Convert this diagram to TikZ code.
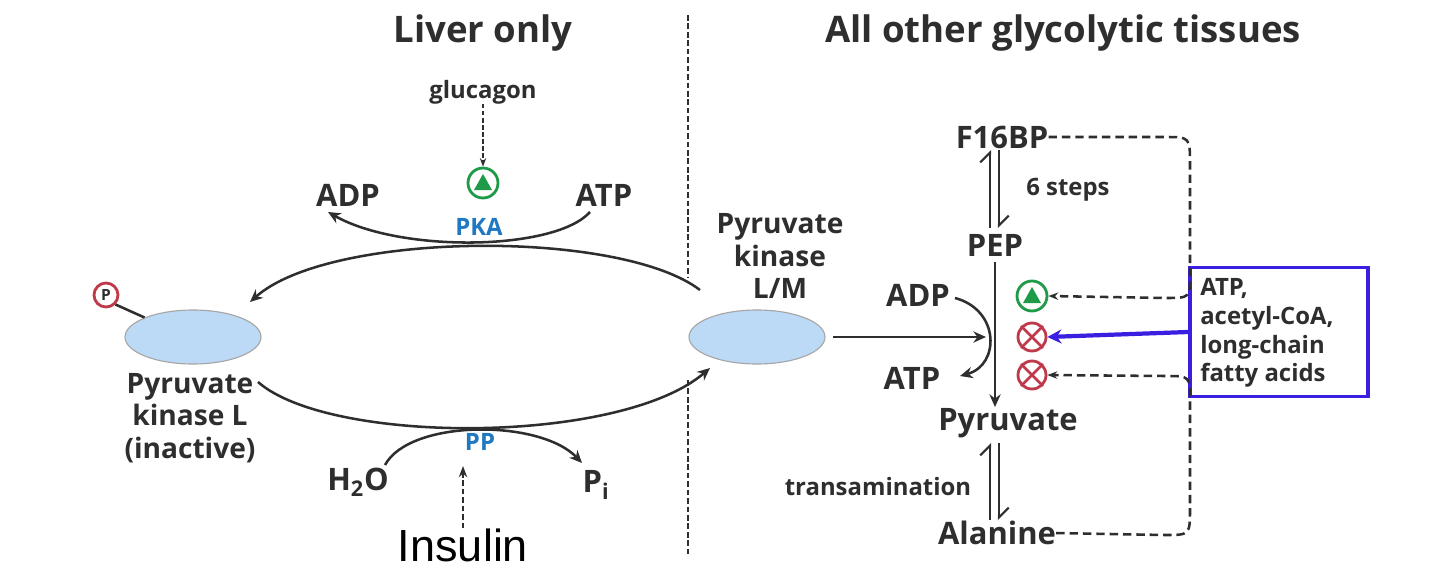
\documentclass[tikz,border=0pt]{standalone}
\usepackage{fontspec}
\setmainfont{Open Sans}
\newfontfamily\arialf{Liberation Sans}
\usetikzlibrary{arrows.meta,shapes.geometric,calc}
\definecolor{ink}{HTML}{2E2E2E}
\definecolor{pkblue}{HTML}{1F78C1}
\definecolor{encfill}{HTML}{BCD9F5}
\definecolor{actgreen}{HTML}{1E9A48}
\definecolor{inhred}{HTML}{C0394B}
\definecolor{boxblue}{HTML}{3A1FE0}
\tikzset{
  lbl/.style={font=\bfseries\fontsize{22}{24}\selectfont, text=ink, inner sep=0pt},
  sml/.style={font=\bfseries\fontsize{17}{25}\selectfont, text=ink, inner sep=0pt},
  ttl/.style={font=\bfseries\fontsize{26}{28}\selectfont, text=ink, inner sep=0pt},
  enz/.style={ellipse, draw=gray!70, fill=encfill, minimum width=136*0.025cm, minimum height=54*0.025cm, line width=0.8pt},
  conn/.style={draw=ink, line width=1.8pt, -{Stealth[length=9pt,width=8pt]}},
  plain/.style={draw=ink, line width=1.8pt},
  dsh/.style={draw=ink, line width=1.8pt, dash pattern=on 6pt off 3.5pt},
  act/.style={circle, draw=actgreen, line width=2pt, minimum size=30*0.025cm, inner sep=0pt},
  inh/.style={circle, draw=inhred, line width=2pt, minimum size=28*0.025cm, inner sep=0pt},
}
\begin{document}
\begin{tikzpicture}[x=0.025cm,y=-0.025cm]
\useasboundingbox (0,0) rectangle (1440,587);
% titles
\node[ttl] (t1) at (483,33) {Liver only};
\node[ttl] (t2) at (1063,33) {All other glycolytic tissues};
% divider
\coordinate (d1) at (688,15); \coordinate (d2) at (688,278);
\coordinate (d3) at (688,380); \coordinate (d4) at (688,555);
\draw[dsh, dash pattern=on 4pt off 2pt, line width=1.8pt] (d1) -- (d2);
\draw[dsh, dash pattern=on 4pt off 2pt, line width=1.8pt] (d3) -- (d4);
% enzymes
\node[enz] (eL) at (193,337) {};
\node[enz] (eM) at (757,337) {};
\node[circle, draw=inhred, line width=2pt, minimum size=24*0.025cm, inner sep=0pt, font=\bfseries\fontsize{11}{12}\selectfont, text=ink] (P) at (106,295) {P};
\draw[plain] (P.south east) -- (eL.north west);
\node[lbl, align=center, font=\bfseries\fontsize{20}{23}\selectfont] (lL) at (190,418) {Pyruvate\\kinase L\\(inactive)};
\node[lbl, align=center, font=\bfseries\fontsize{20}{23}\selectfont] (lM) at (780,256) {Pyruvate\\kinase\\L/M};
% top cycle
\coordinate (ta) at (700,290);
\coordinate (tb) at (250,302);
\draw[conn] (ta) .. controls (620,229) and (330,231) .. (tb);
\coordinate (ba) at (258,382);
\coordinate (bb) at (710,368);
\draw[conn] (ba) .. controls (330,445) and (620,445) .. (bb);
% glucagon / PKA
\node[sml] (glu) at (483,92) {glucagon};
\node[act] (gA) at (483,183) {};
\fill[actgreen] ($(gA)+(0,-9)$) -- ($(gA)+(-9,7)$) -- ($(gA)+(9,7)$) -- cycle;
\draw[dsh, dash pattern=on 3pt off 2pt, -{Stealth[length=6pt]}] (glu) -- (gA);
\node[lbl] (adp1) at (348,195) {ADP};
\node[lbl] (atp1) at (604,195) {ATP};
\node[sml, text=pkblue] (pka) at (479,227) {PKA};
\coordinate (atpS) at (590,212);
\coordinate (adpE) at (328,212);
\draw[conn] (atpS) .. controls (555,251) and (400,253) .. (adpE);
% PP / insulin
\node[sml, text=pkblue] (pp) at (480,442) {PP};
\node[lbl] (h2o) at (358,482) {H\textsubscript{2}O};
\node[lbl] (pi) at (596,485) {P\textsubscript{i}};
\coordinate (h2oS) at (385,465);
\coordinate (piE) at (582,463);
\draw[conn] (h2oS) .. controls (410,419) and (540,419) .. (piE);
\node[font=\arialf\fontsize{32}{34}\selectfont, text=black, inner sep=0pt] (ins) at (463,545) {Insulin};
\coordinate (insE) at (463,466);
\draw[dsh, dash pattern=on 4pt off 2pt, -{Stealth[length=8pt]}] (ins.north) -- (insE);
% right pathway
\node[lbl] (f16) at (1002,137) {F16BP};
\node[lbl] (pep) at (995,245) {PEP};
\node[lbl] (pyr) at (1008,423) {Pyruvate};
\node[lbl] (ala) at (997,533) {Alanine};
\node[sml] (six) at (1068,190) {6 steps};
\node[sml] (trans) at (878,487) {transamination};
\coordinate (h1a) at (990,150); \coordinate (h1b) at (990,228);
\coordinate (h2a) at (999,150); \coordinate (h2b) at (999,228);
\draw[plain, line width=1.5pt, -{Straight Barb[left,length=7pt]}] (h1b) -- (h1a);
\draw[plain, line width=1.5pt, -{Straight Barb[left,length=7pt]}] (h2a) -- (h2b);
\coordinate (h3a) at (990,443); \coordinate (h3b) at (990,520);
\coordinate (h4a) at (999,443); \coordinate (h4b) at (999,520);
\draw[plain, line width=1.5pt, -{Straight Barb[left,length=7pt]}] (h3b) -- (h3a);
\draw[plain, line width=1.5pt, -{Straight Barb[left,length=7pt]}] (h4a) -- (h4b);
\coordinate (vt) at (995,262); \coordinate (vb) at (995,407);
\draw[conn] (vt) -- (vb);
\coordinate (mE) at (986,337);
\coordinate (mS) at (833,337);
\draw[conn] (mS) -- (mE);
\node[lbl] (adp2) at (918,295) {ADP};
\node[lbl] (atp2) at (912,378) {ATP};
\coordinate (adp2S) at (955,298); \coordinate (atp2E) at (960,376);
\draw[conn] (adp2S) .. controls (1000,310) and (1000,365) .. (atp2E);
\node[act] (rA) at (1032,296) {};
\fill[actgreen] ($(rA)+(0,-9)$) -- ($(rA)+(-9,7)$) -- ($(rA)+(9,7)$) -- cycle;
\node[inh] (i1) at (1032,337) {};
\node[inh] (i2) at (1032,375) {};
\foreach \n in {i1,i2}{
  \draw[inhred, line width=1.8pt] (\n.north west) -- (\n.south east);
  \draw[inhred, line width=1.8pt] (\n.north east) -- (\n.south west);
}
% box
\node[draw=boxblue, line width=2.8pt, minimum width=178*0.025cm, minimum height=129*0.025cm, inner sep=0pt] (box) at (1279,332) {};
\node[sml, align=left, anchor=north west, font=\bfseries\fontsize{17}{20.5}\selectfont] (boxt) at (1200,278) {ATP,\\acetyl-CoA,\\long-chain\\fatty acids};
\draw[draw=boxblue, line width=3pt, -{Stealth[length=10pt,width=10pt]}] (box.west) -- (i1.east);
% dashed feedback
\draw[dsh, -{Stealth[length=7pt]}] (f16.east) -- (1165,137) .. controls (1190,137) .. (1190,165) -- (1190,275) .. controls (1190,298) .. (1165,298) -- (rA.east);
\draw[dsh, -{Stealth[length=7pt]}] (ala.east) -- (1165,535) .. controls (1190,535) .. (1190,508) -- (1190,400) .. controls (1190,376) .. (1165,376) -- (i2.east);
\end{tikzpicture}
\end{document}
